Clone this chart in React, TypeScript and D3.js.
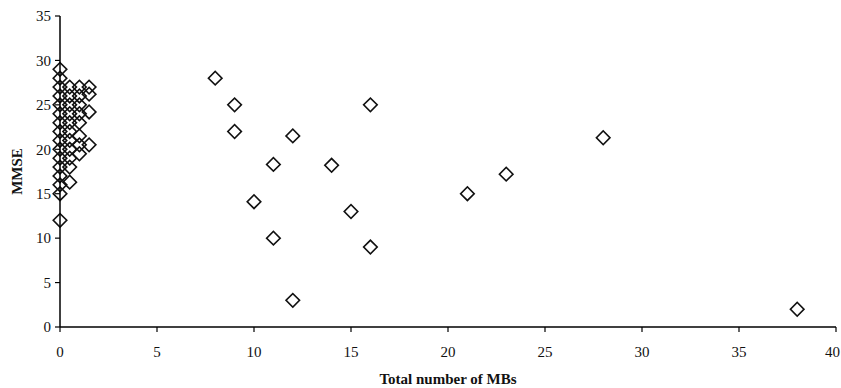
import React from "react";
import { scaleLinear, symbol, symbolSquare } from "d3";

// MMSE vs total number of MBs
const zeroMB = [12, 15, 16, 17, 18, 19, 20, 21, 22, 23, 24, 25, 26, 27, 28, 29];
const halfMB = [16.3, 18, 19, 20, 21, 22, 23, 24, 25, 26, 27];
const oneMB = [19.5, 20.5, 21.5, 23, 24, 25, 26, 27];
const oneHalfMB = [20.5, 24.2, 26.2, 27];

const otherMB = [8, 9, 9, 12, 16, 11, 14, 10, 15, 11, 16, 12, 21, 23, 28, 38];
const otherMMSE = [28, 25, 22, 21.5, 25, 18.3, 18.2, 14.1, 13, 10, 9, 3, 15, 17.2, 21.3, 2];

const xTicks = [0, 5, 10, 15, 20, 25, 30, 35, 40];
const yTicks = [0, 5, 10, 15, 20, 25, 30, 35];

const App = () => {
  const width = 841;
  const height = 388;
  const margin = { top: 16, right: 4, bottom: 61, left: 60 };

  const points = [
    ...zeroMB.map(v => [0, v]),
    ...halfMB.map(v => [0.5, v]),
    ...oneMB.map(v => [1, v]),
    ...oneHalfMB.map(v => [1.5, v]),
    ...otherMB.map((m, i) => [m, otherMMSE[i]])
  ];

  const x = scaleLinear().domain([0, 40]).range([margin.left, width - margin.right - 1]);
  const y = scaleLinear().domain([0, 35]).range([height - margin.bottom, margin.top]);

  // rotated square = the open diamond marker
  const diamond = symbol().type(symbolSquare).size(92)();
  const font = "'Liberation Serif', 'Times New Roman', serif";

  return (
    <svg
      width={width}
      height={height}
      style={{ position: "absolute", left: 0, top: 0, background: "#fff" }}
    >
      {points.map(([px, py], i) => (
        <path
          key={i}
          d={diamond}
          transform={`translate(${x(px)},${y(py)}) rotate(45)`}
          fill="none"
          stroke="#111"
          strokeWidth={1.6}
        />
      ))}

      {/* y axis */}
      <line x1={x(0)} x2={x(0)} y1={y(35)} y2={y(0)} stroke="#000" strokeWidth={1.5} />
      {yTicks.map(t => (
        <g key={t}>
          <line x1={x(0) - 5} x2={x(0)} y1={y(t)} y2={y(t)} stroke="#000" strokeWidth={1.2} />
          <text
            x={x(0) - 9}
            y={y(t)}
            dy="0.35em"
            textAnchor="end"
            fontFamily={font}
            fontSize={15}
            fill="#111"
          >
            {t}
          </text>
        </g>
      ))}

      {/* x axis */}
      <line x1={x(0)} x2={x(40)} y1={y(0)} y2={y(0)} stroke="#000" strokeWidth={1.5} />
      {xTicks.map((t, i) => {
        const last = i === xTicks.length - 1;
        return (
          <g key={t}>
            <line x1={x(t)} x2={x(t)} y1={y(0)} y2={y(0) + 5} stroke="#000" strokeWidth={1.2} />
            <text
              x={last ? width - 1 : x(t)}
              y={y(0) + 30}
              textAnchor={last ? "end" : "middle"}
              fontFamily={font}
              fontSize={15}
              fill="#111"
            >
              {t}
            </text>
          </g>
        );
      })}

      <text
        x={448}
        y={384}
        textAnchor="middle"
        fontFamily={font}
        fontSize={15}
        fontWeight="bold"
        fill="#111"
      >
        Total number of MBs
      </text>
      <text
        transform={`translate(22,${(y(0) + y(35)) / 2}) rotate(-90)`}
        textAnchor="middle"
        fontFamily={font}
        fontSize={15}
        fontWeight="bold"
        fill="#111"
      >
        MMSE
      </text>
    </svg>
  );
};

export default App;
